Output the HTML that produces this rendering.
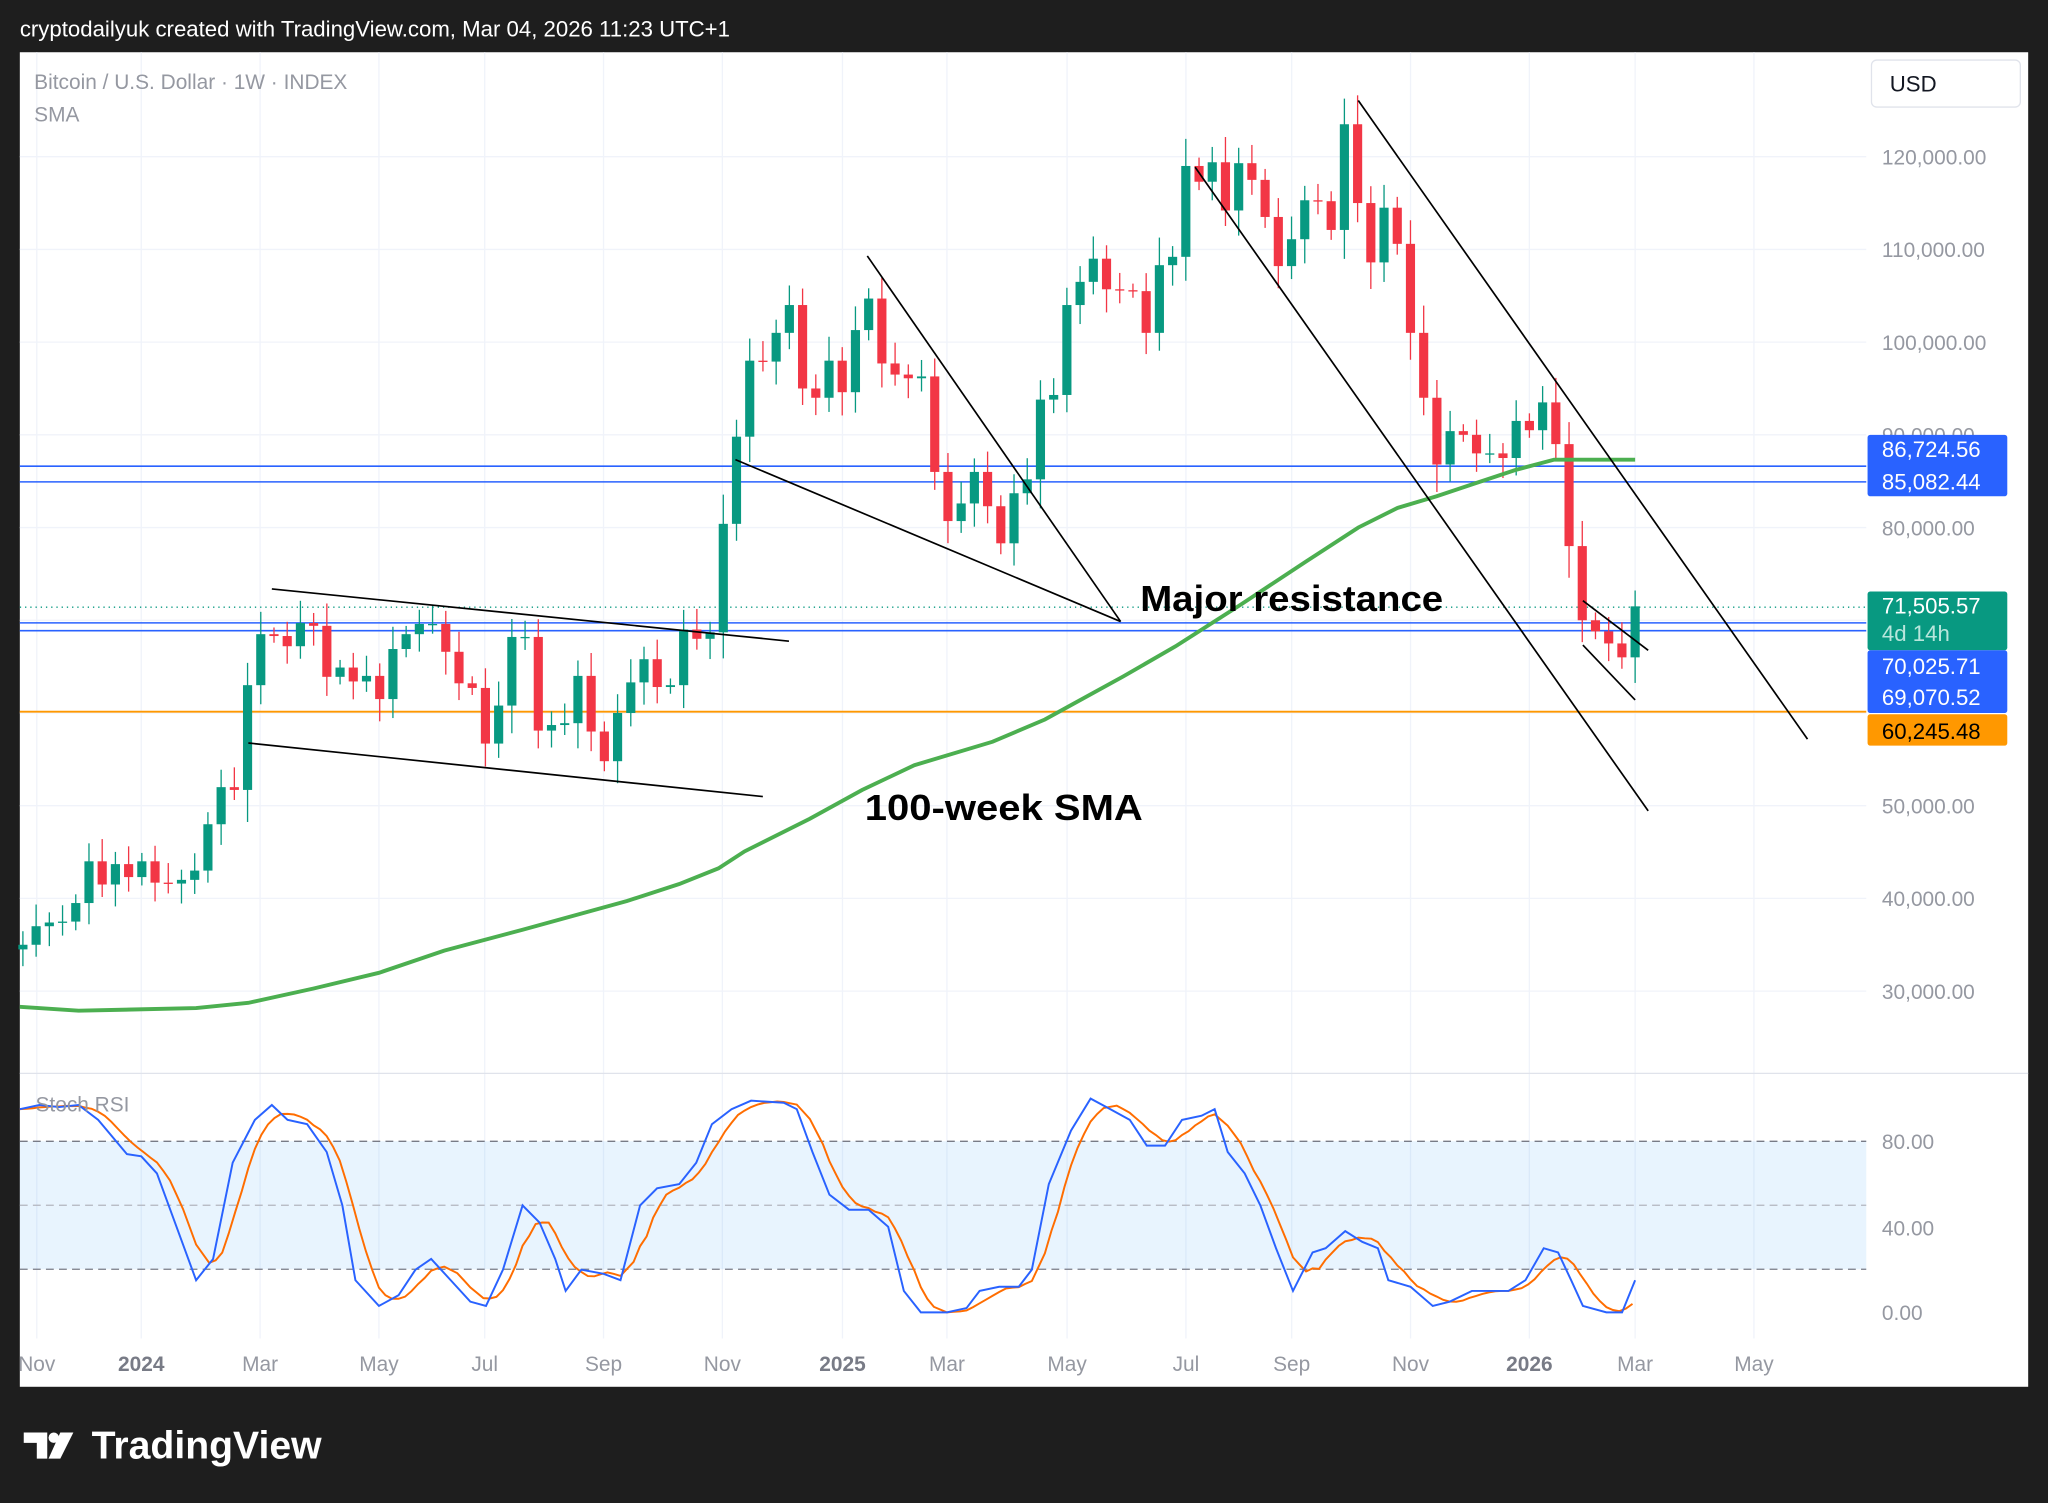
<!DOCTYPE html>
<html><head><meta charset="utf-8"><style>
html,body{margin:0;padding:0;background:#1e1e1e;width:2048px;height:1503px;overflow:hidden}
svg{display:block;font-family:"Liberation Sans",sans-serif}
</style></head><body>
<svg id="s" width="2048" height="1503" viewBox="0 0 1568 1151" xmlns="http://www.w3.org/2000/svg">
<rect width="1568" height="1151" fill="#1e1e1e"/>
<text x="15" y="28" fill="#fff" font-size="17">cryptodailyuk created with TradingView.com, Mar 04, 2026 11:23 UTC+1</text>
<rect x="15" y="40" width="1538" height="1022" fill="#fff"/>
<g id="grid"></g>
<rect x="15" y="874" width="1414" height="98" fill="#2196f3" fill-opacity="0.1"/>
<line x1="15" y1="874" x2="1429" y2="874" stroke="#787b86" stroke-dasharray="6,4"/>
<line x1="15" y1="923" x2="1429" y2="923" stroke="#b2b5be" stroke-dasharray="6,4"/>
<line x1="15" y1="972" x2="1429" y2="972" stroke="#787b86" stroke-dasharray="6,4"/>
<line x1="15" y1="822" x2="1553" y2="822" stroke="#e0e3eb"/>
<line x1="15" y1="357" x2="1429" y2="357" stroke="#2962ff" stroke-width="1.2"/>
<line x1="15" y1="369" x2="1429" y2="369" stroke="#2962ff" stroke-width="1.2"/>
<line x1="15" y1="477" x2="1429" y2="477" stroke="#2962ff" stroke-width="1.2"/>
<line x1="15" y1="483" x2="1429" y2="483" stroke="#2962ff" stroke-width="1.2"/>
<line x1="15" y1="465" x2="1429" y2="465" stroke="#089981" stroke-dasharray="1,3"/>
<line x1="15" y1="545" x2="1429" y2="545" stroke="#ff9800" stroke-width="1.5"/>
<g id="candles"></g>
<polyline fill="none" stroke="#4caf50" stroke-width="3" points="15,771 60,774 150,772 190,768 240,757 290,745 340,728 400,712 440,701 480,690 520,677 550,665 570,652 620,627 660,605 700,586 760,568 800,551 820,540 860,518 900,495 950,463 1000,430 1040,404 1070,389 1100,380 1130,370 1160,360 1190,352 1252,352"/>
<g id="rsi"></g>
<g stroke="#000" stroke-width="1.3">
<line x1="208" y1="451" x2="604" y2="491"/>
<line x1="190" y1="569" x2="584" y2="610"/>
<line x1="563" y1="352" x2="858" y2="476"/>
<line x1="664" y1="196" x2="858" y2="476"/>
<line x1="1040" y1="77" x2="1384" y2="566"/>
<line x1="915" y1="128" x2="1262" y2="621"/>
<line x1="1212" y1="460" x2="1262" y2="498"/>
<line x1="1212" y1="494" x2="1252" y2="536"/>
</g>
<text x="873" y="468" font-size="28" font-weight="bold" fill="#000" textLength="232" lengthAdjust="spacingAndGlyphs">Major resistance</text>
<text x="662" y="628" font-size="28" font-weight="bold" fill="#000" textLength="213" lengthAdjust="spacingAndGlyphs">100-week SMA</text>
<text x="26" y="68" font-size="16" fill="#9598a1">Bitcoin / U.S. Dollar · 1W · INDEX</text>
<text x="26" y="93" font-size="16" fill="#9598a1">SMA</text>
<text x="27" y="851" font-size="16" fill="#9598a1">Stoch RSI</text>
<g id="axis" font-size="16" fill="#9598a1"></g>
<rect x="1433" y="46" width="114" height="36" rx="4" fill="#fff" stroke="#e0e3eb"/>
<text x="1447" y="70" font-size="17" fill="#131722">USD</text>
<g font-size="17" fill="#fff">
<rect x="1430" y="333" width="107" height="47" rx="2" fill="#2962ff"/>
<text x="1441" y="350">86,724.56</text><text x="1441" y="375">85,082.44</text>
<rect x="1430" y="453" width="107" height="45" rx="2" fill="#089981"/>
<text x="1441" y="470">71,505.57</text><text x="1441" y="491" fill="#b8e6dc">4d 14h</text>
<rect x="1430" y="498" width="107" height="48" rx="2" fill="#2962ff"/>
<text x="1441" y="516">70,025.71</text><text x="1441" y="540">69,070.52</text>
<rect x="1430" y="547" width="107" height="24" rx="2" fill="#ff9800"/>
<text x="1441" y="566" fill="#000">60,245.48</text>
</g>
<g fill="#fff"><path d="M18,1097h18v20h-8v-12h-10z"/><circle cx="41" cy="1101" r="4"/><path d="M46,1097h10l-10,20h-9z"/></g>
<text x="70" y="1117" font-size="30" font-weight="bold" fill="#fff">TradingView</text>
</svg>
<script>
const NS="http://www.w3.org/2000/svg";
function el(p,t,a,txt){const e=document.createElementNS(NS,t);for(const k in a)e.setAttribute(k,a[k]);if(txt)e.textContent=txt;document.getElementById(p).appendChild(e);}
const py=p=>120+(120000-p)*0.0071;
const months=[[28,"Nov"],[108,"2024"],[199,"Mar"],[290,"May"],[371,"Jul"],[462,"Sep"],[553,"Nov"],[645,"2025"],[725,"Mar"],[817,"May"],[908,"Jul"],[989,"Sep"],[1080,"Nov"],[1171,"2026"],[1252,"Mar"],[1343,"May"]];
months.forEach(([x,t])=>{el("grid","line",{x1:x,y1:40,x2:x,y2:1025,stroke:"#f0f3fa"});
 const b=/20\d\d/.test(t);el("axis","text",{x:x,y:1050,"text-anchor":"middle","font-weight":b?"bold":"normal",fill:b?"#787b86":"#9598a1"},t);});
[120000,110000,100000,90000,80000,70000,60000,50000,40000,30000].forEach(p=>{const y=py(p);el("grid","line",{x1:15,y1:y,x2:1429,y2:y,stroke:"#f0f3fa"});
 if(p!==70000&&p!==60000)el("axis","text",{x:1441,y:y+6},p.toLocaleString("en-US")+".00");});
[[80,874],[40,940],[0,1005]].forEach(([v,y])=>el("axis","text",{x:1441,y:y+6},v.toFixed(2)));
const C=[34500,35000,37000,37400,37500,39500,44000,41500,43700,42300,44000,41700,41600,42000,43000,48000,52000,51700,63000,68500,68300,67200,69700,69400,63900,64900,63400,64000,61500,66900,68500,69600,69600,66600,63200,62700,56700,60800,68200,68200,58100,58700,58900,64000,58000,54800,60000,63300,65800,62800,63000,69000,68000,68700,80400,89800,98000,97900,101000,104000,95000,94000,98000,94600,101300,104700,97700,96500,96100,96300,86000,80700,82600,86000,82300,78300,83700,85200,93800,94300,104000,106500,109000,105700,105600,105500,101000,108300,109200,119000,117300,119400,114200,119300,117500,113500,108200,111100,115300,115200,112100,123500,115000,108600,114500,110600,101000,94000,86800,90400,90000,88000,88000,87500,91500,90500,93500,89000,78000,70000,68800,67500,66000,71500];
const n=C.length;
for(let i=1;i<n;i++){const o=C[i-1],c=C[i];const x=1252-(n-1-i)*10.12;const r=Math.abs(c-o);
 const h=Math.max(o,c)+r*0.12+700+((i*37)%5)*350,l=Math.min(o,c)-r*0.12-700-((i*53)%5)*350;
 const col=c>=o?"#089981":"#f23645";
 el("candles","line",{x1:x,y1:py(h),x2:x,y2:py(l),stroke:col,"stroke-width":1});
 const t=py(Math.max(o,c)),b=py(Math.min(o,c));el("candles","rect",{x:x-3.5,y:t,width:7,height:Math.max(1,b-t),fill:col});}
const K=[[15,95],[30,97],[45,96],[60,97],[75,90],[97,74],[108,73],[120,65],[135,40],[150,15],[163,25],[178,70],[195,90],[208,97],[220,90],[235,88],[250,75],[262,50],[272,15],[290,3],[305,8],[318,20],[330,25],[345,15],[360,5],[372,3],[385,20],[400,50],[413,42],[425,25],[433,10],[445,20],[462,18],[475,15],[490,50],[503,58],[520,60],[533,70],[545,88],[560,95],[575,99],[600,98],[610,95],[622,75],[635,55],[650,48],[665,48],[680,40],[692,10],[705,0],[725,0],[740,2],[750,10],[765,12],[780,12],[790,20],[803,60],[820,85],[835,100],[850,95],[865,90],[878,78],[892,78],[905,90],[920,92],[930,95],[940,75],[953,65],[965,50],[977,30],[990,10],[1005,28],[1015,30],[1030,38],[1043,33],[1055,30],[1063,15],[1080,12],[1097,3],[1110,5],[1127,10],[1140,10],[1155,10],[1168,15],[1182,30],[1193,28],[1203,15],[1212,3],[1230,0],[1242,0],[1252,15]];
const ry=v=>1005-v*1.6375;
function kAt(x){if(x<=K[0][0])return K[0][1];for(let i=1;i<K.length;i++)if(x<=K[i][0]){const[a,b]=K[i-1],[c,d]=K[i];return b+(d-b)*(x-a)/(c-a);}return K[K.length-1][1];}
let dp=[];for(let x=15;x<=1252;x+=5){const v=(kAt(x)+kAt(x-10)+kAt(x-20))/3;dp.push(x+","+ry(v).toFixed(1));}
el("rsi","polyline",{points:dp.join(" "),fill:"none",stroke:"#ff6d00","stroke-width":1.5});
el("rsi","polyline",{points:K.map(([x,v])=>x+","+ry(v).toFixed(1)).join(" "),fill:"none",stroke:"#2962ff","stroke-width":1.5});
</script>
</body></html>
